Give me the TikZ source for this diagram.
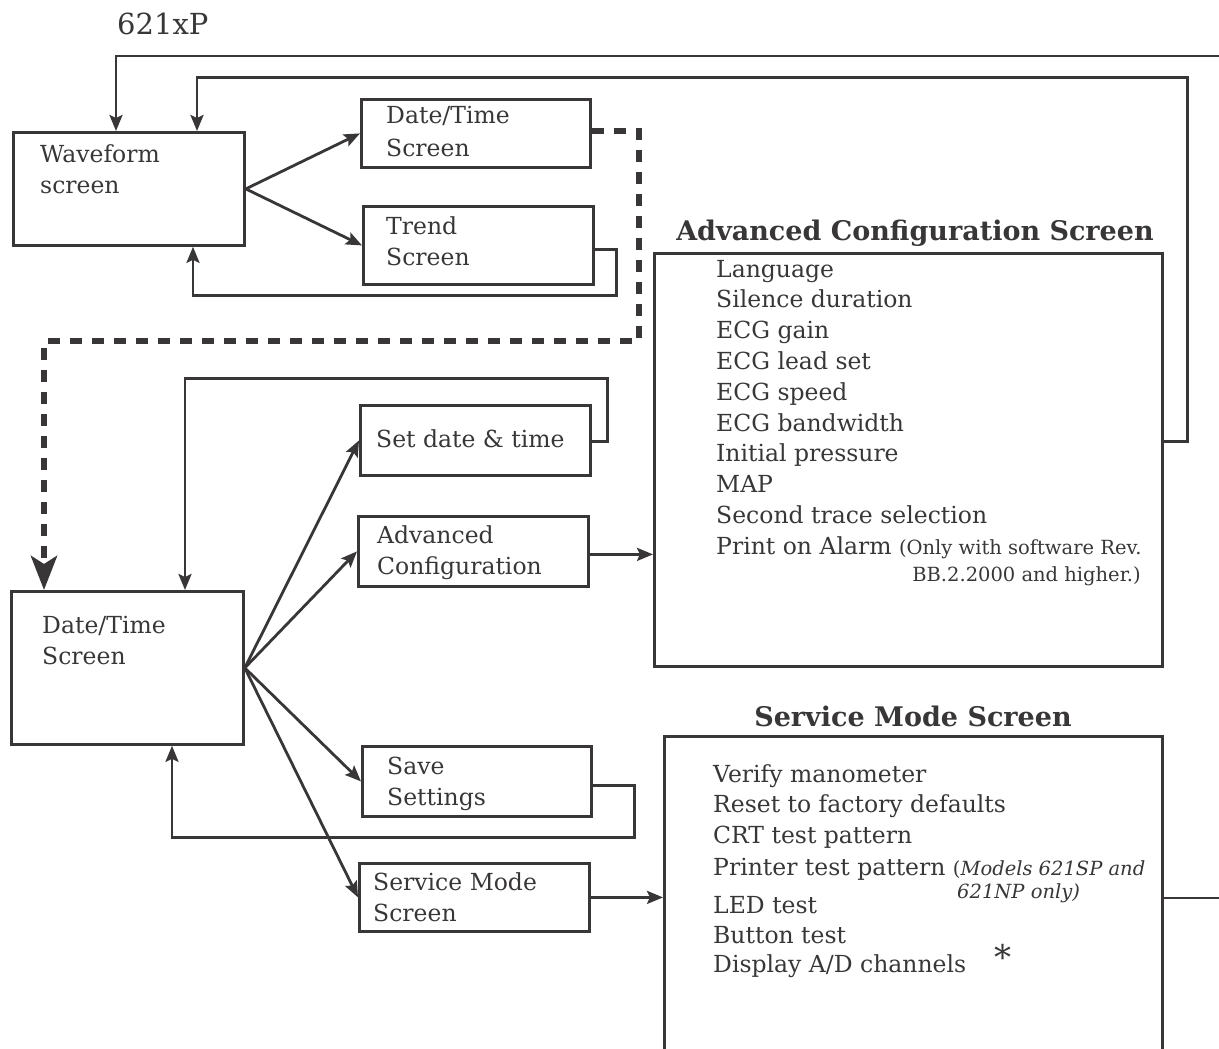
\documentclass[tikz,border=0pt]{standalone}
\usepackage{fontspec}
\setmainfont{DejaVu Serif}
\usetikzlibrary{arrows.meta}
\definecolor{ink}{HTML}{383636}
\begin{document}
\begin{tikzpicture}[x=1pt,y=-1pt,
  box/.style={draw=ink, line width=2.8pt, inner sep=0pt, anchor=north west},
  conn/.style={draw=ink, line width=2.8pt},
  arr/.style={conn, -{Stealth[length=16pt,width=13pt,inset=3pt]}},
  dashline/.style={draw=ink, line width=6pt, dash pattern=on 12pt off 10pt, -{Stealth[length=34pt,width=26pt,inset=8pt]}},
  txt/.style={anchor=base west, inner sep=0pt, text=ink, font=\fontsize{23.5}{28}\selectfont},
  small/.style={anchor=base west, inner sep=0pt, text=ink, font=\fontsize{19.5}{22}\selectfont},
  title/.style={anchor=base, inner sep=0pt, text=ink, font=\fontsize{27}{32}\selectfont\bfseries},
]
\useasboundingbox (0,0) rectangle (1219,1049);
\clip (0,0) rectangle (1219,1049);

% boxes
\node[box, minimum width=231pt, minimum height=113pt] (wave) at (12,131) {};
\node[box, minimum width=229pt, minimum height=68pt] (dt1) at (360,98) {};
\node[box, minimum width=230pt, minimum height=78pt] (trend) at (362,205) {};
\node[box, minimum width=232pt, minimum height=153pt] (dt2) at (10,590) {};
\node[box, minimum width=230pt, minimum height=70pt] (setdt) at (359,404) {};
\node[box, minimum width=230pt, minimum height=70pt] (advc) at (357,515) {};
\node[box, minimum width=229pt, minimum height=70pt] (save) at (361,745) {};
\node[box, minimum width=230pt, minimum height=68pt] (serv) at (358,862) {};
\node[box, minimum width=508pt, minimum height=413pt] (advscr) at (653,252) {};
\node[box, minimum width=498pt, minimum height=345pt] (servscr) at (663,735) {};

% texts
\node[txt, font=\fontsize{29}{32}\selectfont] (t621) at (117,35) {621xP};
\node[txt] (twave1) at (40,162) {Waveform};
\node[txt] (twave2) at (40,193) {screen};
\node[txt] (tdt11) at (386,124) {Date/Time};
\node[txt] (tdt12) at (386,156) {Screen};
\node[txt] (ttr1) at (386,234) {Trend};
\node[txt] (ttr2) at (386,265) {Screen};
\node[txt] (tdt21) at (42,633) {Date/Time};
\node[txt] (tdt22) at (42,664) {Screen};
\node[txt] (tset) at (376,447) {Set date \& time};
\node[txt] (tadv1) at (377,543) {Advanced};
\node[txt] (tadv2) at (377,574) {Configuration};
\node[txt] (tsave1) at (387,774) {Save};
\node[txt] (tsave2) at (387,805) {Settings};
\node[txt] (tserv1) at (373,890) {Service Mode};
\node[txt] (tserv2) at (373,921) {Screen};

\node[title] (advtitle) at (915,240) {Advanced Configuration Screen};
\node[txt] (a1) at (716,277) {Language};
\node[txt] (a2) at (716,307) {Silence duration};
\node[txt] (a3) at (716,338) {ECG gain};
\node[txt] (a4) at (716,369) {ECG lead set};
\node[txt] (a5) at (716,400) {ECG speed};
\node[txt] (a6) at (716,431) {ECG bandwidth};
\node[txt] (a7) at (716,461) {Initial pressure};
\node[txt] (a8) at (716,492) {MAP};
\node[txt] (a9) at (716,523) {Second trace selection};
\node[txt] (a10) at (716,554) {Print on Alarm {\fontsize{19.5}{22}\selectfont(Only with software Rev.}};
\node[small, anchor=base east] (a11) at (1141,581) {BB.2.2000 and higher.)};

\node[title] (servtitle) at (913,726) {Service Mode Screen};
\node[txt] (s1) at (713,782) {Verify manometer};
\node[txt] (s2) at (713,812) {Reset to factory defaults};
\node[txt] (s3) at (713,843) {CRT test pattern};
\node[txt] (s4) at (713,875) {Printer test pattern {\fontsize{19.5}{22}\selectfont(\itshape Models 621SP and}};
\node[small, font=\fontsize{19.5}{22}\selectfont\itshape] (s4b) at (957,898) {621NP only)};
\node[txt] (s5) at (713,913) {LED test};
\node[txt] (s6) at (713,943) {Button test};
\node[txt] (s7) at (713,972) {Display A/D channels};
\node[txt, font=\fontsize{34}{34}\selectfont] (star) at (994,969) {*};

% connectors top
\coordinate (r1) at (1230,56);
\draw[arr] (r1) -| ([xshift=104pt]wave.north west);
\draw[arr] ([yshift=18.5pt]advscr.east) -| ++(24,-364) -| ([xshift=185pt]wave.north west);
\draw[arr] (wave.east) -- (dt1.west);
\draw[arr] (wave.east) -- (trend.west);
\draw[arr] ([yshift=-4pt]trend.east) -| ++(22,46) -| ([xshift=181pt]wave.south west);
\draw[dashline] ([yshift=2pt]dt1.east) -| ++(47,210) -| ([xshift=34pt]dt2.north west);

% connectors bottom
\draw[arr] ([yshift=-1pt]setdt.east) -| ++(16,-63) -| ([xshift=175pt]dt2.north west);
\draw[arr] (dt2.east) -- (setdt.west);
\draw[arr] (dt2.east) -- (advc.west);
\draw[arr] (dt2.east) -- (save.west);
\draw[arr] (dt2.east) -- (serv.west);
\draw[arr] ([yshift=-3pt]advc.east) -- ([yshift=-3pt]advc.east -| advscr.west);
\draw[arr] ([yshift=-4pt]save.east) -| ++(42,52) -| ([xshift=162pt]dt2.south west);
\draw[arr] (serv.east) -- (serv.east -| servscr.west);
\coordinate (r2) at (1230,898);
\draw[conn] (r2 -| servscr.east) -- (r2);
\end{tikzpicture}
\end{document}
